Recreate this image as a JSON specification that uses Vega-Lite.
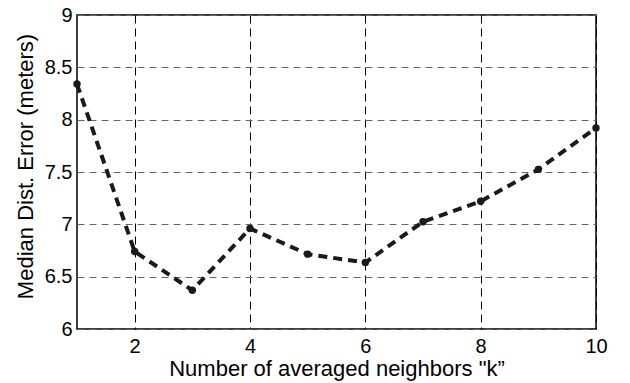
{
  "$schema": "https://vega.github.io/schema/vega-lite/v6.json",
  "width": 519,
  "height": 314,
  "autosize": {"type": "none"},
  "padding": {"left": 77, "top": 15, "right": 34, "bottom": 54},
  "background": "white",
  "config": {
    "view": {"stroke": "black", "strokeWidth": 1.5},
    "font": "Liberation Sans"
  },
  "data": {
    "values": [
      {"k": 1, "err": 8.34},
      {"k": 2, "err": 6.74},
      {"k": 3, "err": 6.37},
      {"k": 4, "err": 6.96},
      {"k": 5, "err": 6.715},
      {"k": 6, "err": 6.635},
      {"k": 7, "err": 7.025},
      {"k": 8, "err": 7.22},
      {"k": 9, "err": 7.525},
      {"k": 10, "err": 7.92}
    ]
  },
  "encoding": {
    "x": {
      "field": "k",
      "type": "quantitative",
      "scale": {"domain": [1, 10], "nice": false, "zero": false},
      "axis": {
        "title": "Number of averaged neighbors \"k\u201d",
        "values": [2, 4, 6, 8, 10],
        "domain": false,
        "ticks": false,
        "grid": true,
        "gridColor": "black",
        "gridDash": [8, 5],
        "gridWidth": 1,
        "labelFont": "Liberation Sans",
        "labelFontSize": 20,
        "labelColor": "black",
        "labelPadding": 7,
        "labelFlush": false,
        "titleFont": "Liberation Sans",
        "titleFontSize": 22,
        "titleFontWeight": "normal",
        "titleColor": "black",
        "titleBaseline": "alphabetic",
        "titleY": 46
      }
    },
    "y": {
      "field": "err",
      "type": "quantitative",
      "scale": {"domain": [6, 9], "nice": false, "zero": false},
      "axis": {
        "title": "Median Dist. Error (meters)",
        "values": [6, 6.5, 7, 7.5, 8, 8.5, 9],
        "format": "~g",
        "domain": false,
        "ticks": false,
        "grid": true,
        "gridColor": "#666666",
        "gridDash": [7, 5],
        "gridWidth": 1,
        "labelFont": "Liberation Sans",
        "labelFontSize": 20,
        "labelColor": "black",
        "labelPadding": 5,
        "labelFlush": false,
        "titleFont": "Liberation Sans",
        "titleFontSize": 22,
        "titleFontWeight": "normal",
        "titleColor": "black",
        "titleBaseline": "alphabetic",
        "titleX": -45,
        "titleY": 151
      }
    }
  },
  "layer": [
    {
      "mark": {"type": "line", "color": "#1a1a1a", "strokeWidth": 4, "strokeDash": [9, 6]}
    },
    {
      "mark": {"type": "point", "filled": true, "color": "#1a1a1a", "size": 55, "opacity": 1}
    }
  ]
}
